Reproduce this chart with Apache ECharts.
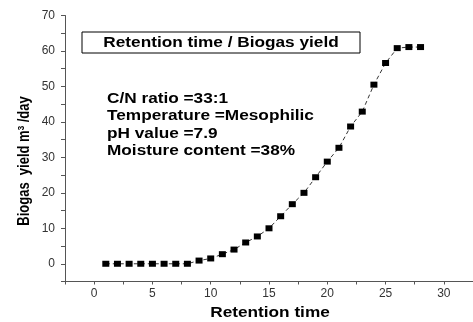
<!DOCTYPE html>
<html>
<head>
<meta charset="utf-8">
<script src="https://cdn.jsdelivr.net/npm/echarts@6/dist/echarts.min.js"></script>
<style>
  html, body { margin: 0; padding: 0; background: #fff; }
  #chart { width: 473px; height: 322px; }
</style>
</head>
<body>
<div id="chart"></div>
<script>
// retention time (days)
var days = [1, 2, 3, 4, 5, 6, 7, 8, 9, 10, 11, 12, 13, 14, 15, 16, 17, 18, 19, 20, 21, 22, 23, 24, 25, 26, 27, 28];
// biogas yield m3/day
var yieldVals = [0, 0, 0, 0, 0, 0, 0, 0, 0.9, 1.5, 2.7, 4.0, 6.0, 7.7, 10.0, 13.4, 16.8, 20.0, 24.4, 28.8, 32.7, 38.7, 42.9, 50.5, 56.6, 60.8, 61.1, 61.1];
// tick labels
var xTickLabels = [0, 5, 10, 15, 20, 25, 30];
var xTickMarks = [-2.5, 0, 2.5, 5, 7.5, 10, 12.5, 15, 17.5, 20, 22.5, 25, 27.5, 30, 32.5];
var yTickLabels = [0, 10, 20, 30, 40, 50, 60, 70];
var yTickMarks = [-5, 0, 5, 10, 15, 20, 25, 30, 35, 40, 45, 50, 55, 60, 65, 70];
var noteLines = ["C/N ratio =33:1", "Temperature =Mesophilic", "pH value =7.9", "Moisture content =38%"];

var points = days.map(function (d, i) { return [d, yieldVals[i]]; });

var boldFont = "Liberation Sans, Arial, sans-serif";
// the original figure is a bit stretched sideways
var stretch = 1.23;

var option = {
  animation: false,
  grid: { left: 65, right: 0, top: 15.5, bottom: 40.5 },
  xAxis: {
    type: "value",
    min: -2.5,
    max: 32.5,
    axisLine: { show: true, onZero: false, lineStyle: { color: "#555", width: 1 } },
    axisTick: { show: true, customValues: xTickMarks, length: 3, lineStyle: { color: "#555" } },
    axisLabel: { customValues: xTickLabels, color: "#333", fontSize: 12, margin: 6, fontFamily: boldFont },
    splitLine: { show: false }
  },
  yAxis: {
    type: "value",
    min: -5,
    max: 70,
    axisLine: { show: true, onZero: false, lineStyle: { color: "#555", width: 1 } },
    axisTick: { show: true, customValues: yTickMarks, length: 4, lineStyle: { color: "#555" } },
    axisLabel: { customValues: yTickLabels, color: "#333", fontSize: 12, margin: 10, fontFamily: boldFont },
    splitLine: { show: false }
  },
  graphic: [
    {
      type: "rect",
      shape: { x: 82, y: 32, width: 278, height: 21 },
      style: { fill: "#fff", stroke: "#000", lineWidth: 1 }
    },
    {
      type: "text",
      x: 221, y: 43,
      scaleX: stretch,
      style: {
        text: "Retention time / Biogas yield",
        font: "bold 14px " + boldFont,
        fill: "#000", align: "center", verticalAlign: "middle"
      }
    },
    {
      type: "text",
      x: 107, y: 99,
      scaleX: stretch,
      style: {
        text: noteLines.join("\n"),
        font: "bold 14px " + boldFont,
        lineHeight: 17.5,
        fill: "#000", align: "left", verticalAlign: "top",
        padding: [-9, 0, 0, 0]
      }
    },
    {
      // x axis name
      type: "text",
      x: 270, y: 313,
      scaleX: stretch,
      style: {
        text: "Retention time",
        font: "bold 14px " + boldFont,
        fill: "#000", align: "center", verticalAlign: "middle"
      }
    },
    {
      // y axis name (rotated, so the sideways stretch is on its local y)
      type: "text",
      x: 25, y: 161,
      rotation: Math.PI / 2,
      scaleY: stretch,
      style: {
        text: "Biogas  yield m{sup|3} /day",
        font: "bold 13px " + boldFont,
        fill: "#000", align: "center", verticalAlign: "middle",
        rich: {
          sup: { fontSize: 8, fontWeight: "bold", verticalAlign: "top", padding: [0, 0, 6, 0], fontFamily: boldFont }
        }
      }
    }
  ],
  series: [
    {
      type: "line",
      data: points,
      symbol: "rect",
      symbolSize: [7, 6],
      itemStyle: { color: "#000" },
      lineStyle: { color: "#000", width: 0.8, type: [4, 3] }
    }
  ]
};

var myChart = echarts.init(document.getElementById("chart"));
myChart.setOption(option);
</script>
</body>
</html>
